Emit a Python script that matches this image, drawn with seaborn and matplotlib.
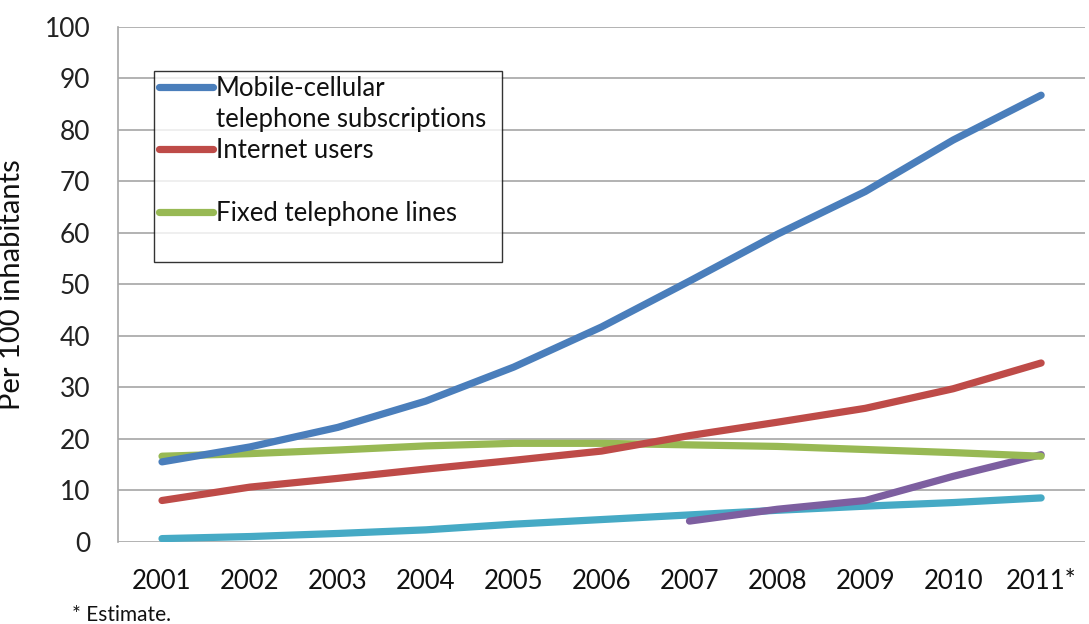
import matplotlib
matplotlib.use("Agg")
import matplotlib.pyplot as plt
import seaborn as sns
import pandas as pd
import numpy as np
from matplotlib.lines import Line2D

years = ["2001", "2002", "2003", "2004", "2005", "2006", "2007", "2008", "2009", "2010", "2011*"]
mobile = [15.5, 18.4, 22.2, 27.3, 33.9, 41.7, 50.6, 59.7, 68.0, 78.0, 86.7]
internet = [8.0, 10.6, 12.3, 14.1, 15.8, 17.6, 20.6, 23.2, 25.9, 29.7, 34.7]
fixed = [16.6, 17.1, 17.8, 18.6, 19.1, 19.1, 18.8, 18.5, 17.9, 17.3, 16.6]
fixed_bb = [0.6, 1.0, 1.6, 2.3, 3.4, 4.3, 5.2, 6.1, 6.9, 7.6, 8.5]
mobile_bb = [None, None, None, None, None, None, 4.0, 6.3, 8.0, 12.7, 16.9]

series = {
    "Mobile-cellular telephone subscriptions": mobile,
    "Internet users": internet,
    "Fixed telephone lines": fixed,
    "Fixed broadband": fixed_bb,
    "Mobile broadband": mobile_bb,
}
colors = {
    "Mobile-cellular telephone subscriptions": "#4A7EBB",
    "Internet users": "#BE4B48",
    "Fixed telephone lines": "#98B954",
    "Fixed broadband": "#46AAC5",
    "Mobile broadband": "#7D5FA0",
}

rows = []
for name, vals in series.items():
    for i, v in enumerate(vals):
        if v is not None:
            rows.append({"idx": i, "value": v, "series": name})
df = pd.DataFrame(rows)

sns.set_style("white")
plt.rcParams['font.family'] = ['Lato', 'DejaVu Sans']

fig = plt.figure(figsize=(10.89, 6.24), dpi=100)
ax = fig.add_axes([0.1084, 0.1319, 0.888, 0.8253])

draw_order = ["Fixed broadband", "Mobile broadband", "Fixed telephone lines",
              "Internet users", "Mobile-cellular telephone subscriptions"]
for name in draw_order:
    sub = df[df["series"] == name]
    sns.lineplot(data=sub, x="idx", y="value", color=colors[name], linewidth=5.2,
                 ax=ax, legend=False, solid_capstyle="round", sort=False)

ax.set_xlim(-0.5, 10.5)
ax.set_ylim(0, 100)
ax.set_yticks(np.arange(0, 101, 10))
ax.set_xticks(range(len(years)))
ax.set_xticklabels(years)
ax.yaxis.grid(True, color="#A6A6A6", linewidth=1.2)
ax.set_axisbelow(True)
for s in ["top", "right", "bottom"]:
    ax.spines[s].set_visible(False)
ax.spines["left"].set_color("#A6A6A6")
ax.spines["left"].set_linewidth(1.2)
ax.tick_params(axis="y", length=0, pad=20, labelsize=19, labelcolor="#222222")
ax.tick_params(axis="x", length=0, pad=20, labelsize=18.5, labelcolor="#111111")
ax.set_xlabel("")
ax.set_ylabel("Per 100 inhabitants", fontsize=21, color="#111111")
ax.yaxis.set_label_coords(-0.096, 0.5)

handles = [
    Line2D([], [], color=colors["Mobile-cellular telephone subscriptions"], linewidth=5.2, solid_capstyle="round"),
    Line2D([], [], color="none"),
    Line2D([], [], color=colors["Internet users"], linewidth=5.2, solid_capstyle="round"),
    Line2D([], [], color="none"),
    Line2D([], [], color=colors["Fixed telephone lines"], linewidth=5.2, solid_capstyle="round"),
    Line2D([], [], color="none"),
]
labels = ["Mobile-cellular", "telephone subscriptions", "Internet users", "", "Fixed telephone lines", ""]
leg = ax.legend(handles, labels, loc="upper left", bbox_to_anchor=(0.0372, 0.5, 0.36, 0.414),
                mode="expand", frameon=True, fancybox=False, fontsize=18.5, handlelength=2.1,
                handletextpad=0.1, labelspacing=0.24, borderpad=0.2, borderaxespad=0)
leg.get_frame().set_edgecolor("#000000")
leg.get_frame().set_linewidth(1.0)
for t in leg.get_texts():
    t.set_color("#111111")

fig.text(72 / 1089, 1 - 615 / 624, "* Estimate.", fontsize=15, va="center", ha="left", color="#111111")

fig.savefig("out.png", dpi=100)
